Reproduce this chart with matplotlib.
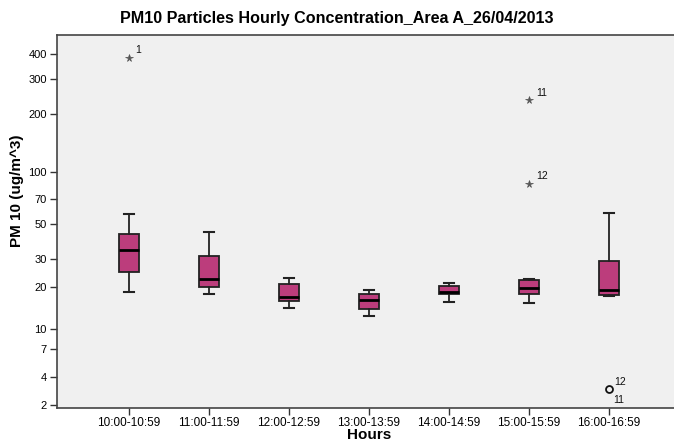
import numpy as np
import matplotlib
matplotlib.use("Agg")
import matplotlib.pyplot as plt

plt.rcParams['font.family'] = ['Liberation Sans', 'DejaVu Sans']

# ---------------- data ----------------
hours = ['10:00-10:59', '11:00-11:59', '12:00-12:59', '13:00-13:59',
         '14:00-14:59', '15:00-15:59', '16:00-16:59']
whislo = [18.4, 17.8, 14.2, 12.4, 15.7, 15.3, 17.3]
q1 = [24.9, 20.0, 15.8, 14.0, 17.9, 17.7, 17.5]
med = [34.5, 22.3, 16.9, 16.0, 18.4, 19.6, 18.9]
q3 = [43.3, 31.5, 20.8, 17.7, 20.2, 22.1, 29.3]
whishi = [57.3, 44.3, 22.6, 18.9, 21.2, 22.5, 58.3]

# extreme outliers (stars)
extreme_idx = [0, 5, 5]
extreme_vals = [381, 235, 85.6]
extreme_cases = ['1', '11', '12']
# mild outliers (circles) - two overlapping cases
mild_idx = [6]
mild_vals = [2.94]
mild_cases_upper = ['12']
mild_cases_lower = ['11']

y_ticks = [2, 4, 7, 10, 20, 30, 50, 70, 100, 200, 300, 400]

# ---------------- axis transform (SPSS-like scale) ----------------
scale_vals = [1, 2, 4, 7, 10, 20, 30, 50, 70, 100, 200, 300, 400, 1000]
scale_pos = [-28.3, 0, 28.3, 55.7, 75.7, 118.3, 145.7, 181, 205.7, 233.3,
             290.7, 325.7, 351, 431.4]
log_vals = np.log10(scale_vals)
scale_pos = np.array(scale_pos)


def fwd(x):
    x = np.clip(np.asarray(x, dtype=float), 1e-3, None)
    return np.interp(np.log10(x), log_vals, scale_pos)


def inv(p):
    p = np.asarray(p, dtype=float)
    return 10 ** np.interp(p, scale_pos, log_vals)


# ---------------- figure ----------------
fig = plt.figure(figsize=(6.74, 4.40), dpi=100)
ax = fig.add_axes([0.0841, 0.072, 0.9263, 0.849])
ax.set_facecolor('#F0F0F0')
ax.set_yscale('function', functions=(fwd, inv))

positions = list(range(len(hours)))
stats = [dict(med=m, q1=a, q3=b, whislo=lo, whishi=hi, fliers=[])
         for m, a, b, lo, hi in zip(med, q1, q3, whislo, whishi)]
edge = '#222222'
ax.bxp(stats, positions=positions, widths=0.25, capwidths=0.125,
       patch_artist=True, showfliers=False,
       boxprops=dict(facecolor='#BC3D7C', edgecolor=edge, linewidth=1.3),
       medianprops=dict(color='black', linewidth=2.0),
       whiskerprops=dict(color=edge, linewidth=1.3),
       capprops=dict(color=edge, linewidth=1.5))

# outliers
ax.plot(extreme_idx, extreme_vals, linestyle='none', marker='*',
        markersize=5.5, color='#555555', markeredgewidth=0.5)
for i, v, c in zip(extreme_idx, extreme_vals, extreme_cases):
    ax.annotate(c, (i, v), xytext=(5, 3.5), textcoords='offset points',
                fontsize=7.5, color='#111111')
ax.plot(mild_idx, mild_vals, linestyle='none', marker='o', markersize=5,
        markerfacecolor='none', markeredgecolor='#111111', markeredgewidth=1.3)
for i, v, c in zip(mild_idx, mild_vals, mild_cases_upper):
    ax.annotate(c, (i, v), xytext=(4, 3), textcoords='offset points',
                fontsize=7.5, color='#111111')
for i, v, c in zip(mild_idx, mild_vals, mild_cases_lower):
    ax.annotate(c, (i, v), xytext=(3, -10), textcoords='offset points',
                fontsize=7.5, color='#111111')

ax.set_xlim(-0.9, len(hours) - 1 + 0.9)
ax.set_ylim(float(inv(-3.3)), float(inv(370.3)))
ax.set_xticks(positions)
ax.set_xticklabels(hours)
ax.set_yticks(y_ticks)
ax.set_yticklabels([str(t) for t in y_ticks])
ax.minorticks_off()
ax.tick_params(axis='both', direction='out', length=5, width=1,
               color='#333333', labelsize=8, pad=2)
ax.tick_params(axis='x', labelsize=8.5, pad=1)
for s in ax.spines.values():
    s.set_color('#444444')
    s.set_linewidth(1.2)

# axis titles placed as in the reference
fig.text((56.7 + 681) / 2 / 674, (440 - 438.5) / 440, 'Hours',
         ha='center', va='baseline', fontsize=11, fontweight='bold')
fig.text(16.7 / 674, (440 - 190.5) / 440, 'PM 10 (ug/m^3)', rotation=90,
         ha='center', va='center', fontsize=11, fontweight='bold')
fig.text(0.5, 0.959, 'PM10 Particles Hourly Concentration_Area A_26/04/2013',
         ha='center', va='center', fontsize=11.6, fontweight='bold')

fig.savefig('out.png', dpi=100)
